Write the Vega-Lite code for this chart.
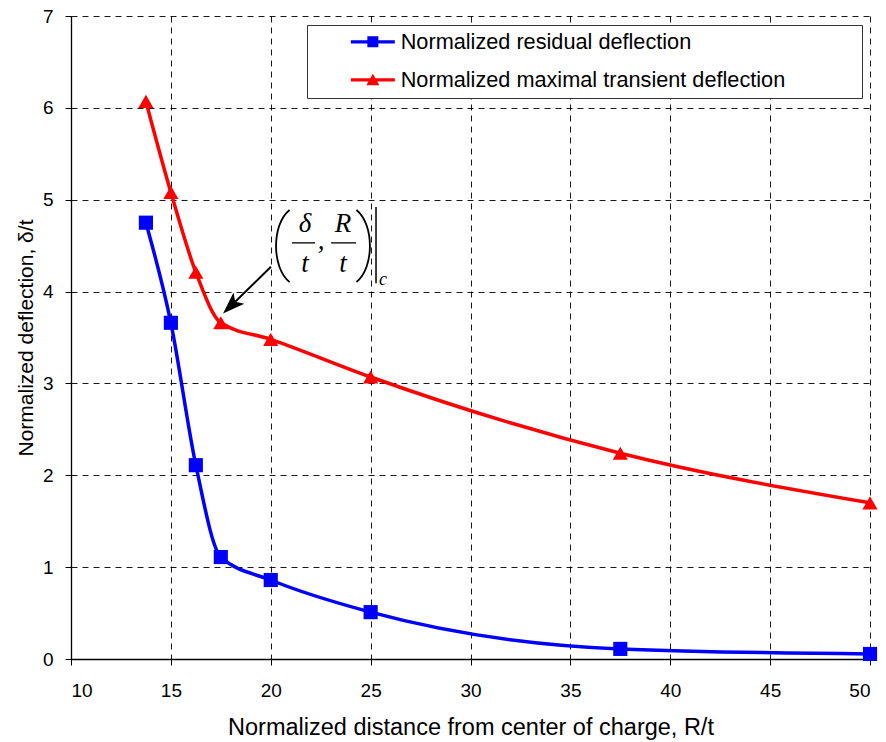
{
  "$schema": "https://vega.github.io/schema/vega-lite/v6.json",
  "autosize": {"type": "none"},
  "padding": {"left": 71, "top": 16, "right": 16, "bottom": 83},
  "width": 799,
  "height": 643,
  "background": "white",
  "config": {
    "view": {"stroke": null},
    "axis": {
      "domainColor": "black", "domainWidth": 1.3,
      "tickColor": "black", "tickSize": 6, "tickWidth": 1,
      "labelFont": "Liberation Sans", "labelFontSize": 19, "labelColor": "black",
      "titleFont": "Liberation Sans", "titleFontSize": 21, "titleFontWeight": "normal", "titleColor": "black",
      "gridColor": "black", "gridDash": [6, 5], "gridOpacity": 0.9, "gridWidth": 1
    }
  },
  "datasets": {
    "main": [
      {"series": "Normalized residual deflection", "r": 13.75, "d": 4.75},
      {"series": "Normalized residual deflection", "r": 15, "d": 3.66},
      {"series": "Normalized residual deflection", "r": 16.25, "d": 2.11},
      {"series": "Normalized residual deflection", "r": 17.5, "d": 1.11},
      {"series": "Normalized residual deflection", "r": 20, "d": 0.86},
      {"series": "Normalized residual deflection", "r": 25, "d": 0.51},
      {"series": "Normalized residual deflection", "r": 37.5, "d": 0.11},
      {"series": "Normalized residual deflection", "r": 50, "d": 0.055},
      {"series": "Normalized maximal transient deflection", "r": 13.75, "d": 6.07},
      {"series": "Normalized maximal transient deflection", "r": 15, "d": 5.08},
      {"series": "Normalized maximal transient deflection", "r": 16.25, "d": 4.21},
      {"series": "Normalized maximal transient deflection", "r": 17.5, "d": 3.66},
      {"series": "Normalized maximal transient deflection", "r": 20, "d": 3.48},
      {"series": "Normalized maximal transient deflection", "r": 25, "d": 3.07},
      {"series": "Normalized maximal transient deflection", "r": 37.5, "d": 2.24},
      {"series": "Normalized maximal transient deflection", "r": 50, "d": 1.70}
    ],
    "letters": [
      {"x": 21.71, "y": 4.65, "t": "δ"},
      {"x": 21.71, "y": 4.21, "t": "t"},
      {"x": 23.62, "y": 4.65, "t": "R"},
      {"x": 23.62, "y": 4.21, "t": "t"},
      {"x": 22.52, "y": 4.46, "t": ","}
    ],
    "bars": [
      {"x": 21.06, "x2": 22.22, "y": 4.53},
      {"x": 23.02, "x2": 24.27, "y": 4.53}
    ]
  },
  "layer": [
    {
      "data": {"name": "main"},
      "transform": [{"filter": "datum.series === 'Normalized residual deflection'"}],
      "mark": {"type": "line", "interpolate": "monotone", "strokeWidth": 3.5, "color": "#0000FF"},
      "encoding": {
        "x": {
          "field": "r", "type": "quantitative",
          "scale": {"domain": [10, 50], "nice": false, "zero": false},
          "axis": {"values": [10, 15, 20, 25, 30, 35, 40, 45, 50], "labelPadding": 16, "titlePadding": 15, "titleFontSize": 23.5,
                   "title": "Normalized distance from center of charge, R/t"}
        },
        "y": {
          "field": "d", "type": "quantitative",
          "scale": {"domain": [0, 7], "nice": false},
          "axis": {"values": [0, 1, 2, 3, 4, 5, 6, 7], "format": "d", "labelPadding": 12, "titlePadding": 6,
                   "title": "Normalized deflection,  δ/t"}
        }
      }
    },
    {
      "data": {"name": "main"},
      "transform": [{"filter": "datum.series === 'Normalized maximal transient deflection'"}],
      "mark": {"type": "line", "interpolate": "monotone", "strokeWidth": 3.5, "color": "#FF0000"},
      "encoding": {
        "x": {"field": "r", "type": "quantitative"},
        "y": {"field": "d", "type": "quantitative"}
      }
    },
    {
      "data": {"name": "main"},
      "transform": [{"filter": "datum.series === 'Normalized residual deflection'"}],
      "mark": {"type": "point", "shape": "square", "filled": true, "size": 200, "opacity": 1, "color": "#0000FF"},
      "encoding": {
        "x": {"field": "r", "type": "quantitative"},
        "y": {"field": "d", "type": "quantitative"}
      }
    },
    {
      "data": {"name": "main"},
      "transform": [{"filter": "datum.series === 'Normalized maximal transient deflection'"}],
      "mark": {"type": "point", "shape": "triangle-up", "filled": true, "size": 230, "opacity": 1, "color": "#FF0000"},
      "encoding": {
        "x": {"field": "r", "type": "quantitative"},
        "y": {"field": "d", "type": "quantitative"}
      }
    },
    {
      "data": {"name": "main"},
      "transform": [{"filter": "false"}],
      "mark": {"type": "point", "filled": true, "opacity": 1},
      "encoding": {
        "x": {"field": "r", "type": "quantitative"},
        "y": {"field": "d", "type": "quantitative"},
        "color": {
          "field": "series", "type": "nominal",
          "scale": {"domain": ["Normalized residual deflection", "Normalized maximal transient deflection"], "range": ["#0000FF", "#FF0000"]},
          "legend": {
            "title": "M", "titleOrient": "right", "titleOpacity": 0, "titleFontSize": 10, "titleFontWeight": "normal", "titlePadding": 62,
            "orient": "none", "legendX": 236, "legendY": 9,
            "strokeColor": "#333", "fillColor": "white", "padding": 6,
            "symbolOffset": 49, "labelOffset": 17, "symbolSize": 400, "symbolOpacity": 1, "symbolStrokeWidth": 0,
            "labelFont": "Liberation Sans", "labelFontSize": 21.7, "labelColor": "black", "labelLimit": 700,
            "rowPadding": 15
          }
        },
        "shape": {
          "field": "series", "type": "nominal",
          "scale": {
            "domain": ["Normalized residual deflection", "Normalized maximal transient deflection"],
            "range": ["M-2.2,-0.17H2.2V0.17H-2.2Z M-0.55,-0.55H0.55V0.55H-0.55Z", "M-2.2,-0.17H2.2V0.17H-2.2Z M0,-0.6L0.65,0.55H-0.65Z"]
          }
        }
      }
    },
    {
      "mark": {"type": "rule", "color": "black", "strokeWidth": 1.3},
      "encoding": {"x": {"datum": 50}}
    },
    {
      "data": {"values": [{"x": 20.01, "y": 4.27, "x2": 18.08, "y2": 3.86}]},
      "mark": {"type": "rule", "color": "black", "strokeWidth": 2},
      "encoding": {
        "x": {"field": "x", "type": "quantitative"},
        "y": {"field": "y", "type": "quantitative"},
        "x2": {"field": "x2"},
        "y2": {"field": "y2"}
      }
    },
    {
      "data": {"values": [{"x": 18.08, "y": 3.86}]},
      "mark": {"type": "point", "shape": "M0,-1L0.6,0.7L0,0.3L-0.6,0.7Z", "angle": 226, "filled": true, "color": "black", "size": 676, "opacity": 1},
      "encoding": {
        "x": {"field": "x", "type": "quantitative"},
        "y": {"field": "y", "type": "quantitative"}
      }
    },
    {
      "data": {"values": [{"x": 20.40, "y": 4.496}]},
      "mark": {"type": "point", "shape": "M0.3,-1C-0.2,-0.6 -0.2,0.6 0.3,1", "filled": false, "color": "black", "strokeWidth": 1.8, "size": 5184, "opacity": 1},
      "encoding": {
        "x": {"field": "x", "type": "quantitative"},
        "y": {"field": "y", "type": "quantitative"}
      }
    },
    {
      "data": {"values": [{"x": 24.83, "y": 4.496}]},
      "mark": {"type": "point", "shape": "M-0.3,-1C0.2,-0.6 0.2,0.6 -0.3,1", "filled": false, "color": "black", "strokeWidth": 1.8, "size": 5184, "opacity": 1},
      "encoding": {
        "x": {"field": "x", "type": "quantitative"},
        "y": {"field": "y", "type": "quantitative"}
      }
    },
    {
      "data": {"name": "bars"},
      "mark": {"type": "rule", "color": "black", "strokeWidth": 1.3},
      "encoding": {
        "x": {"field": "x", "type": "quantitative"},
        "x2": {"field": "x2"},
        "y": {"field": "y", "type": "quantitative"}
      }
    },
    {
      "data": {"values": [{"x": 25.27, "y": 4.92, "y2": 4.09}]},
      "mark": {"type": "rule", "color": "black", "strokeWidth": 1.5},
      "encoding": {
        "x": {"field": "x", "type": "quantitative"},
        "y": {"field": "y", "type": "quantitative"},
        "y2": {"field": "y2"}
      }
    },
    {
      "data": {"name": "letters"},
      "mark": {"type": "text", "font": "Liberation Serif", "fontStyle": "italic", "fontSize": 27, "align": "center", "baseline": "alphabetic", "color": "black"},
      "encoding": {
        "x": {"field": "x", "type": "quantitative"},
        "y": {"field": "y", "type": "quantitative"},
        "text": {"field": "t"}
      }
    },
    {
      "data": {"values": [{"x": 25.62, "y": 4.07, "t": "c"}]},
      "mark": {"type": "text", "font": "Liberation Serif", "fontStyle": "italic", "fontSize": 18, "align": "center", "baseline": "alphabetic", "color": "black"},
      "encoding": {
        "x": {"field": "x", "type": "quantitative"},
        "y": {"field": "y", "type": "quantitative"},
        "text": {"field": "t"}
      }
    }
  ]
}
